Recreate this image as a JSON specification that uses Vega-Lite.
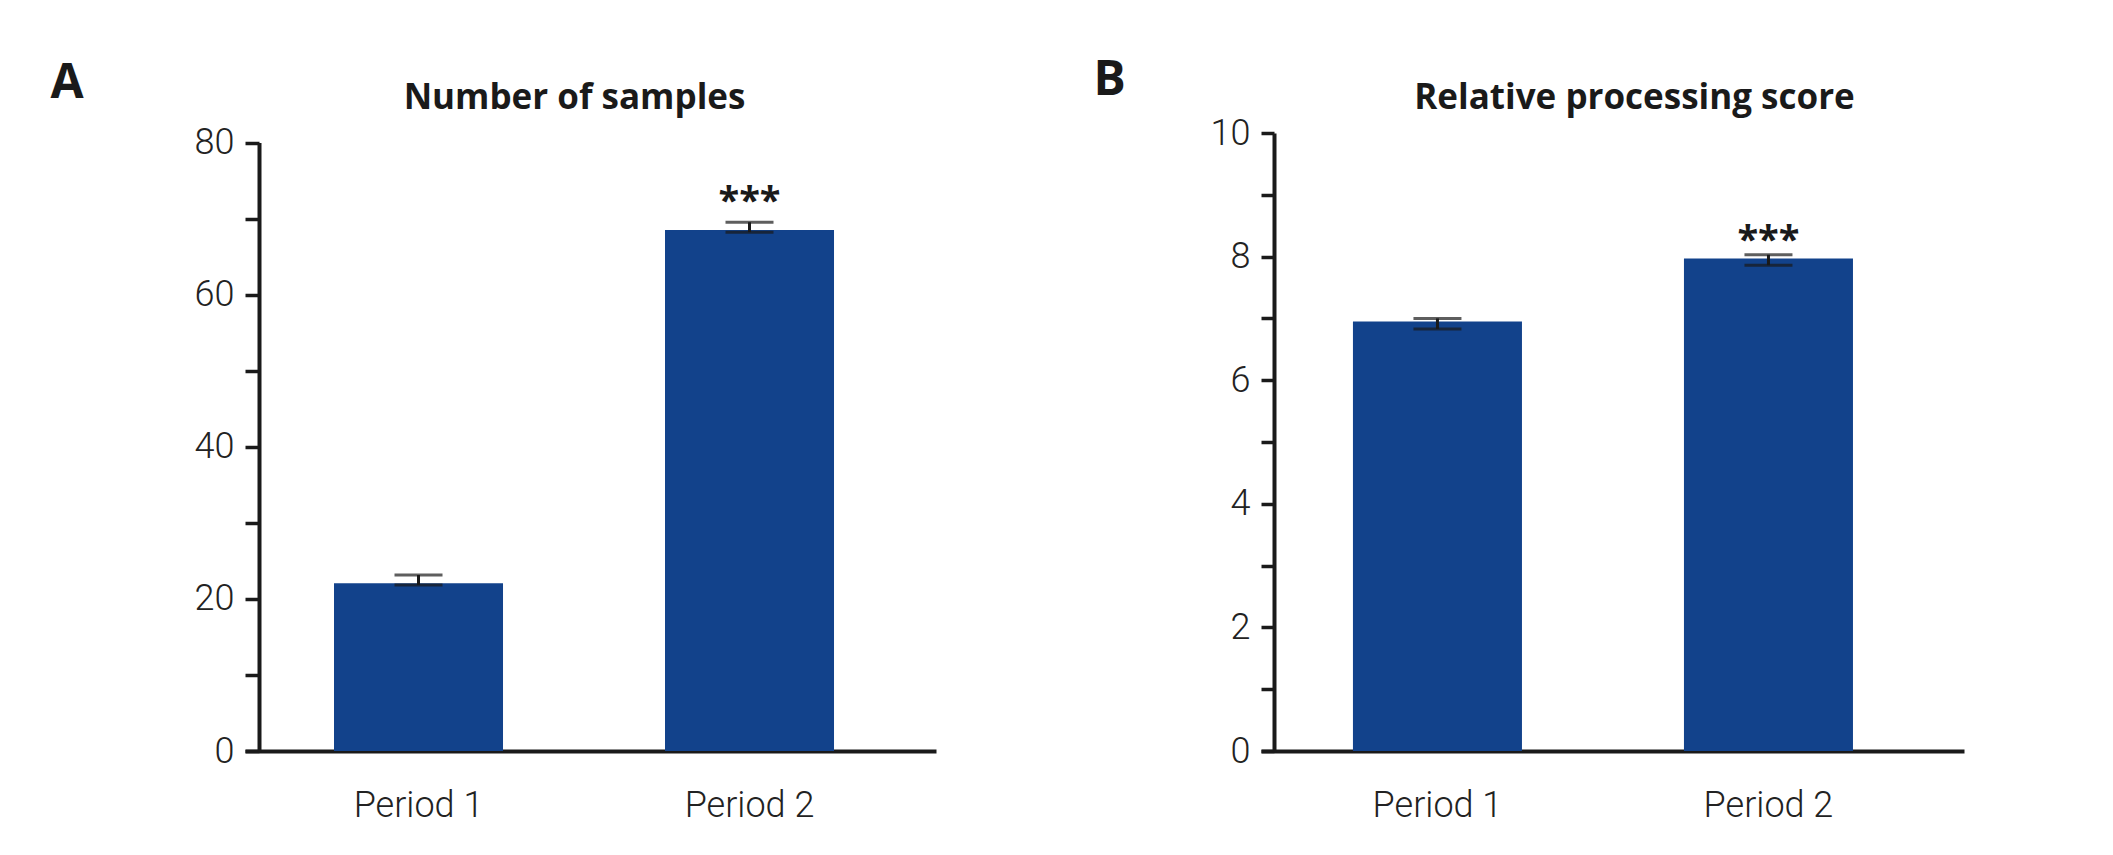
{
  "$schema": "https://vega.github.io/schema/vega-lite/v6.json",
  "padding": {"left": 50, "top": 56, "right": 10, "bottom": 30},
  "spacing": 325,
  "bounds": "flush",
  "background": "white",
  "config": {
    "view": {"stroke": null},
    "axis": {
      "domainColor": "#1a1a1a",
      "tickColor": "#1a1a1a",
      "labelColor": "#222222",
      "labelFont": "Roboto",
      "labelFontWeight": 300,
      "grid": false,
      "labelOverlap": false
    }
  },
  "datasets": {
    "A": [
      {"period": "Period 1", "mean": 22.05, "lo": 21.83, "hi": 23.14},
      {"period": "Period 2", "mean": 68.5, "lo": 68.21, "hi": 69.52, "sig": "***", "sigPos": 72.7}
    ],
    "B": [
      {"period": "Period 1", "mean": 6.95, "lo": 6.83, "hi": 7.0},
      {"period": "Period 2", "mean": 7.97, "lo": 7.86, "hi": 8.03, "sig": "***", "sigPos": 8.32}
    ]
  },
  "hconcat": [
    {
      "width": 691,
      "height": 618,
      "data": {"name": "A"},
      "title": {"text": "Number of samples", "font": "Open Sans", "fontSize": 35, "fontWeight": "bold", "color": "#1a1a1a", "anchor": "middle", "frame": "group", "baseline": "alphabetic", "offset": -85, "dx": -16},
      "encoding": {
        "x": {
          "field": "period", "type": "nominal", "sort": null,
          "scale": {"paddingInner": 0.4894, "paddingOuter": 0.2885, "align": 0.466},
          "axis": {"title": null, "labelAngle": 0, "ticks": false, "tickSize": 0, "labelPadding": 65, "labelBaseline": "alphabetic", "labelFontSize": 36, "domainWidth": 4}
        }
      },
      "layer": [
        {
          "mark": {"type": "bar", "color": "#12428b"},
          "encoding": {
            "y": {
              "field": "mean", "type": "quantitative",
              "scale": {"domain": [0, 80], "range": [618, 9.5], "nice": false},
              "axis": {
                "title": "A", "titleAngle": 0, "titleAlign": "left", "titleBaseline": "alphabetic",
                "titleX": -209, "titleY": -36, "titleFont": "Open Sans", "titleFontSize": 48, "titleFontWeight": "bold", "titleColor": "#1a1a1a",
                "values": [0, 10, 20, 30, 40, 50, 60, 70, 80], "format": "d",
                "labelExpr": "datum.value % 20 === 0 ? datum.label : ''",
                "offset": -14, "tickSize": 14, "tickWidth": 3.5, "domainWidth": 4,
                "labelPadding": 11, "labelFontSize": 36
              }
            }
          }
        },
        {
          "mark": {"type": "rule", "color": "#1a1a1a", "strokeWidth": 3},
          "encoding": {"y": {"field": "lo", "type": "quantitative"}, "y2": {"field": "hi"}}
        },
        {
          "mark": {"type": "tick", "color": "#1a1a1a", "thickness": 3, "size": 48},
          "encoding": {"y": {"field": "lo", "type": "quantitative"}}
        },
        {
          "mark": {"type": "tick", "color": "#1a1a1a", "thickness": 3, "size": 48},
          "encoding": {"y": {"field": "hi", "type": "quantitative"}}
        },
        {
          "transform": [{"filter": "isValid(datum.sig)"}],
          "mark": {"type": "text", "font": "Open Sans", "fontWeight": "bold", "fontSize": 38, "baseline": "middle", "dy": 5, "color": "#1a1a1a"},
          "encoding": {"y": {"field": "sigPos", "type": "quantitative"}, "text": {"field": "sig"}}
        }
      ]
    },
    {
      "width": 703,
      "height": 618,
      "data": {"name": "B"},
      "title": {"text": "Relative processing score", "font": "Open Sans", "fontSize": 35, "fontWeight": "bold", "color": "#1a1a1a", "anchor": "middle", "frame": "group", "baseline": "alphabetic", "offset": -88, "dx": 22},
      "encoding": {
        "x": {
          "field": "period", "type": "nominal", "sort": null,
          "scale": {"paddingInner": 0.4894, "paddingOuter": 0.3066, "align": 0.453},
          "axis": {"title": null, "labelAngle": 0, "ticks": false, "tickSize": 0, "labelPadding": 65, "labelBaseline": "alphabetic", "labelFontSize": 36, "domainWidth": 4}
        }
      },
      "layer": [
        {
          "mark": {"type": "bar", "color": "#12428b"},
          "encoding": {
            "y": {
              "field": "mean", "type": "quantitative",
              "scale": {"domain": [0, 10], "nice": false},
              "axis": {
                "title": "B", "titleAngle": 0, "titleAlign": "left", "titleBaseline": "alphabetic",
                "titleX": -181, "titleY": -39, "titleFont": "Open Sans", "titleFontSize": 48, "titleFontWeight": "bold", "titleColor": "#1a1a1a",
                "values": [0, 1, 2, 3, 4, 5, 6, 7, 8, 9, 10], "format": "d",
                "labelExpr": "datum.value % 2 === 0 ? datum.label : ''",
                "offset": -13, "tickSize": 13, "tickWidth": 3.5, "domainWidth": 4,
                "labelPadding": 11, "labelFontSize": 36
              }
            }
          }
        },
        {
          "mark": {"type": "rule", "color": "#1a1a1a", "strokeWidth": 3},
          "encoding": {"y": {"field": "lo", "type": "quantitative"}, "y2": {"field": "hi"}}
        },
        {
          "mark": {"type": "tick", "color": "#1a1a1a", "thickness": 3, "size": 48},
          "encoding": {"y": {"field": "lo", "type": "quantitative"}}
        },
        {
          "mark": {"type": "tick", "color": "#1a1a1a", "thickness": 3, "size": 48},
          "encoding": {"y": {"field": "hi", "type": "quantitative"}}
        },
        {
          "transform": [{"filter": "isValid(datum.sig)"}],
          "mark": {"type": "text", "font": "Open Sans", "fontWeight": "bold", "fontSize": 38, "baseline": "middle", "dy": 5, "color": "#1a1a1a"},
          "encoding": {"y": {"field": "sigPos", "type": "quantitative"}, "text": {"field": "sig"}}
        }
      ]
    }
  ]
}
